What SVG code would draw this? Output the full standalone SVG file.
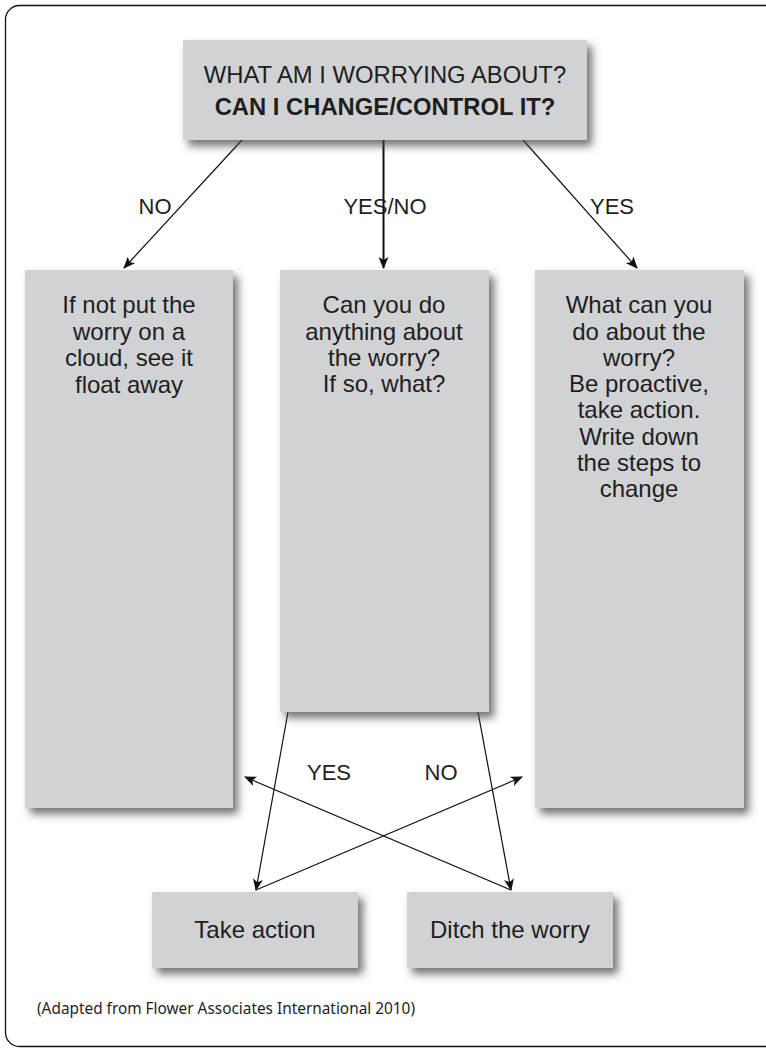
<svg xmlns="http://www.w3.org/2000/svg" width="766" height="1048" viewBox="0 0 766 1048">
<defs>
<style>
.box{fill:#d1d2d4;filter:url(#sh)}
.t{font-family:"Liberation Sans",Arial,sans-serif;font-size:24px;fill:#1e1e1e;text-anchor:middle}
.h{font-size:23.8px}
.b{font-weight:bold}
.lbl{font-family:"Liberation Sans",Arial,sans-serif;font-size:22px;fill:#1e1e1e;text-anchor:middle}
.cap{font-family:"Noto Sans","Open Sans",sans-serif;font-size:17px;fill:#1e1e1e}
.c{stroke:#111;stroke-width:1.2;fill:none;marker-end:url(#ah)}
</style>
<filter id="sh" x="-10%" y="-10%" width="130%" height="130%">
<feDropShadow dx="5" dy="6" stdDeviation="4" flood-color="#444" flood-opacity="0.75"/>
</filter>
<marker id="ah" viewBox="0 0 12 10" refX="11" refY="5" markerWidth="12" markerHeight="10" markerUnits="userSpaceOnUse" orient="auto">
<path d="M0,0 L12,5 L0,10 L3,5 Z" fill="#111"/>
</marker>
</defs>
<rect x="5.5" y="5.5" width="780" height="1041" rx="14" fill="#fff" stroke="#111" stroke-width="1.3"/>
<g id="connectors">
<line class="c" x1="242" y1="140" x2="124" y2="268"/>
<line class="c" x1="383.5" y1="140" x2="383.5" y2="268" style="stroke-width:2"/>
<line class="c" x1="523" y1="140" x2="637" y2="268"/>
<line class="c" x1="288" y1="712" x2="256" y2="890"/>
<line class="c" x1="478" y1="712" x2="511" y2="890"/>
<line class="c" x1="256" y1="890" x2="522" y2="777"/>
<line class="c" x1="511" y1="890" x2="245" y2="777"/>
<text class="lbl" x="155" y="214">NO</text>
<text class="lbl" x="385" y="214">YES/NO</text>
<text class="lbl" x="612" y="214">YES</text>
<text class="lbl" x="329" y="780">YES</text>
<text class="lbl" x="441" y="780">NO</text>
</g>
<g id="n-top">
<rect class="box" x="183" y="40" width="404" height="100"/>
<text class="t h" x="385" y="83">WHAT AM I WORRYING ABOUT?</text>
<text class="t h b" x="385" y="115">CAN I CHANGE/CONTROL IT?</text>
</g>
<g id="n-no">
<rect class="box" x="25" y="270" width="208" height="538"/>
<text class="t" x="129" y="313">If not put the</text>
<text class="t" x="129" y="340">worry on a</text>
<text class="t" x="129" y="366">cloud, see it</text>
<text class="t" x="129" y="393">float away</text>
</g>
<g id="n-yesno">
<rect class="box" x="280" y="270" width="209" height="442"/>
<text class="t" x="384" y="313">Can you do</text>
<text class="t" x="384" y="340">anything about</text>
<text class="t" x="384" y="366">the worry?</text>
<text class="t" x="384" y="392">If so, what?</text>
</g>
<g id="n-yes">
<rect class="box" x="535" y="270" width="209" height="538"/>
<text class="t" x="639" y="313">What can you</text>
<text class="t" x="639" y="340">do about the</text>
<text class="t" x="639" y="366">worry?</text>
<text class="t" x="639" y="392">Be proactive,</text>
<text class="t" x="639" y="418">take action.</text>
<text class="t" x="639" y="445">Write down</text>
<text class="t" x="639" y="471">the steps to</text>
<text class="t" x="639" y="497">change</text>
</g>
<g id="n-take">
<rect class="box" x="152" y="892" width="206" height="76"/>
<text class="t" x="255" y="938">Take action</text>
</g>
<g id="n-ditch">
<rect class="box" x="407" y="892" width="206" height="76"/>
<text class="t" x="510" y="938">Ditch the worry</text>
</g>
<text class="cap" x="37" y="1014" textLength="378" lengthAdjust="spacingAndGlyphs">(Adapted from Flower Associates International 2010)</text>
</svg>
